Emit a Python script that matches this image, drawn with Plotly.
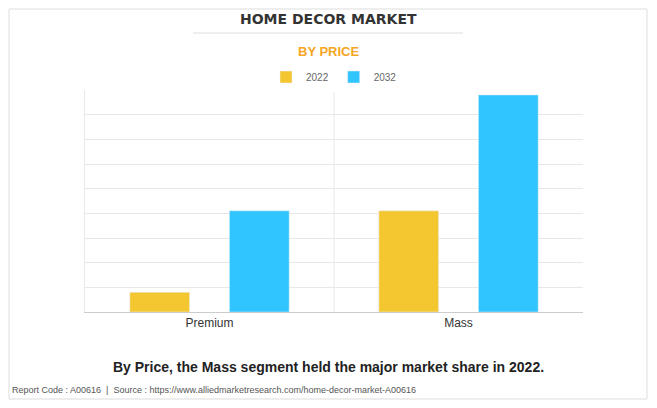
import plotly.graph_objects as go

categories = ["Premium", "Mass"]
values_2022 = [0.8, 4.1]
values_2032 = [4.1, 8.8]

PH = 222.0
PW = 498.0
def py(y):  # page y -> paper y
    return (312 - y) / PH
def px(x):
    return (x - 85) / PW

fig = go.Figure()
fig.add_bar(name="2022", x=categories, y=values_2022, marker_color="#F4C730")
fig.add_bar(name="2032", x=categories, y=values_2032, marker_color="#30C5FF")

fig.update_layout(
    width=641, height=392, paper_bgcolor="white", plot_bgcolor="white",
    margin=dict(l=77, r=66, t=82, b=88),
    bargap=0.2, bargroupgap=0.4,
    font=dict(family="Liberation Sans, Arial", color="#333"),
    showlegend=True,
    legend=dict(orientation="h", x=0.5, xanchor="center", y=py(77), yanchor="middle",
                font=dict(size=10, color="#666"), traceorder="normal"),
    xaxis=dict(showline=True, linecolor="#ccc", tickfont=dict(size=12, color="#333"),
               showgrid=False, ticks=""),
    yaxis=dict(range=[0, 9], dtick=1, showticklabels=False, gridcolor="#e8e8e8",
               zeroline=False, showline=True, linecolor="#e8e8e8"),
    shapes=[
        dict(type="line", xref="x", yref="paper", x0=0.5, x1=0.5, y0=0, y1=1, line=dict(color="#e8e8e8", width=1)),
        dict(type="line", xref="paper", yref="paper", x0=px(193), x1=px(463), y0=py(33), y1=py(33),
             line=dict(color="#ddd", width=1)),
        dict(type="rect", xref="paper", yref="paper", x0=px(9), x1=px(647), y0=py(399), y1=py(9),
             line=dict(color="#ddd", width=1)),
    ],
    annotations=[
        dict(text="<b>HOME DECOR MARKET</b>", x=px(328.5), xref="paper", yref="paper", y=py(19),
             showarrow=False, font=dict(size=14, color="#333", family="Arial Black, DejaVu Sans"), xanchor="center", yanchor="middle"),
        dict(text="<b>BY PRICE</b>", x=px(328.5), xref="paper", yref="paper", y=py(52),
             showarrow=False, font=dict(size=13, color="#F5A623"), xanchor="center", yanchor="middle"),
        dict(text="<b>By Price, the Mass segment held the major market share in 2022.</b>", x=px(328.5), xref="paper",
             yref="paper", y=py(367), showarrow=False, font=dict(size=14, color="#222"), xanchor="center", yanchor="middle"),
        dict(text="Report Code : A00616  |  Source : https://www.alliedmarketresearch.com/home-decor-market-A00616",
             x=px(10), xref="paper", yref="paper", y=py(390), showarrow=False,
             font=dict(size=9, color="#555"), xanchor="left", yanchor="middle"),
    ],
)
fig.write_html("out.html")
